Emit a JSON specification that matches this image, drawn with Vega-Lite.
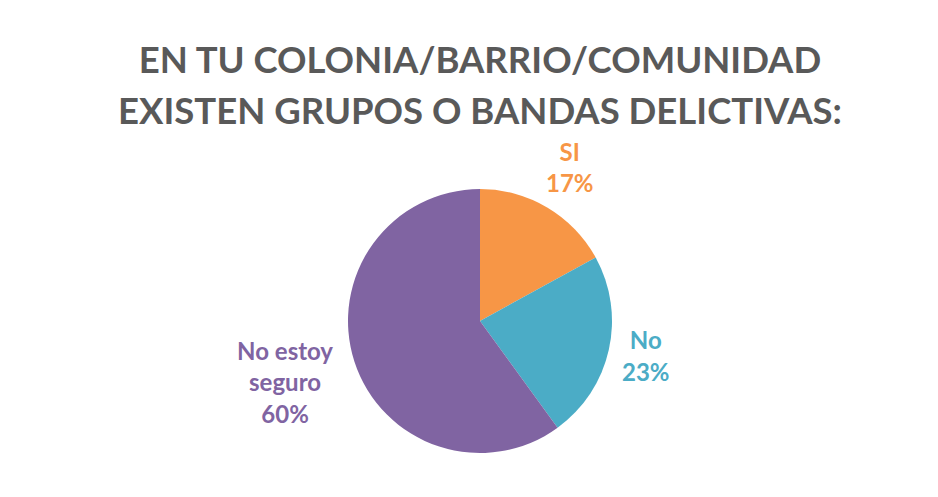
{
  "$schema": "https://vega.github.io/schema/vega-lite/v6.json",
  "width": 938,
  "height": 497,
  "autosize": {"type": "fit", "contains": "padding"},
  "padding": {"left": 22, "top": 47, "right": 0, "bottom": 0},
  "background": "white",
  "title": {
    "text": ["EN TU COLONIA/BARRIO/COMUNIDAD", "EXISTEN GRUPOS O BANDAS DELICTIVAS:"],
    "font": "Lato",
    "fontSize": 36.5,
    "fontWeight": "bold",
    "color": "#595959",
    "lineHeight": 51,
    "offset": 10,
    "anchor": "middle",
    "baseline": "top"
  },
  "data": {
    "values": [
      {"categoria": "SI", "porcentaje": 17, "orden": 1, "etiqueta": "SI\n17%"},
      {"categoria": "No", "porcentaje": 23, "orden": 2, "etiqueta": "No\n23%"},
      {"categoria": "No estoy seguro", "porcentaje": 60, "orden": 3, "etiqueta": "No estoy\nseguro\n60%"}
    ]
  },
  "encoding": {
    "theta": {"field": "porcentaje", "type": "quantitative", "stack": true},
    "order": {"field": "orden", "type": "quantitative"},
    "color": {
      "field": "categoria",
      "type": "nominal",
      "scale": {"domain": ["SI", "No", "No estoy seguro"], "range": ["#F79646", "#4BACC6", "#8064A2"]},
      "legend": null
    }
  },
  "layer": [
    {"mark": {"type": "arc", "outerRadius": 132, "stroke": null}},
    {
      "mark": {
        "type": "text",
        "radius": {"expr": "145 + (12 * max(length(split(datum.etiqueta, '\\n')[0]), length(split(datum.etiqueta, '\\n')[1] || ''), length(split(datum.etiqueta, '\\n')[2] || '')) + 4) / 2 * abs(sin(PI * (datum.porcentaje_start + datum.porcentaje_end) / 100)) + (31.5 * length(split(datum.etiqueta, '\\n')) - 14) / 2 * abs(cos(PI * (datum.porcentaje_start + datum.porcentaje_end) / 100))"},
        "font": "Lato",
        "fontSize": 24,
        "fontWeight": "bold",
        "lineBreak": "\n",
        "lineHeight": 31.5,
        "align": "center",
        "baseline": "middle",
        "dy": {"expr": "-15.75 * (length(split(datum.etiqueta, '\\n')) - 1)"}
      },
      "encoding": {"text": {"field": "etiqueta", "type": "nominal"}}
    }
  ],
  "config": {"view": {"stroke": null}}
}
